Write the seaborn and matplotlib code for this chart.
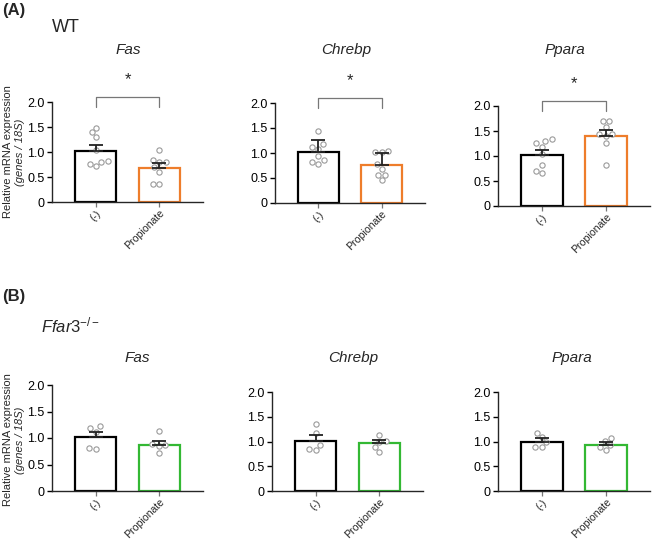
import numpy as np
import pandas as pd
import matplotlib
matplotlib.use("Agg")
import matplotlib.pyplot as plt
import seaborn as sns

# Data
genes = ["Fas", "Chrebp", "Ppara"]
groups = ["(-)", "Propionate"]

wt_means = [[1.03, 0.68], [1.02, 0.75], [1.02, 1.40]]
wt_sem = [[0.12, 0.10], [0.23, 0.25], [0.11, 0.12]]
wt_ctrl_pts = [
    [1.49, 1.40, 1.30, 1.05, 0.80, 0.72, 0.77, 0.83],
    [1.44, 1.17, 1.12, 1.07, 0.94, 0.85, 0.78, 0.81],
    [1.34, 1.26, 1.30, 1.19, 1.04, 0.82, 0.67, 0.70],
]
wt_prop_pts = [
    [1.05, 0.85, 0.81, 0.80, 0.70, 0.61, 0.37, 0.37],
    [1.02, 1.02, 1.03, 0.77, 0.68, 0.56, 0.56, 0.45],
    [1.70, 1.70, 1.59, 1.44, 1.41, 1.44, 1.27, 0.82],
]

ko_means = [[1.02, 0.87], [1.01, 0.97], [0.99, 0.93]]
ko_sem = [[0.09, 0.08], [0.12, 0.06], [0.08, 0.05]]
ko_ctrl_pts = [
    [1.18, 1.12, 1.22, 0.80, 0.82],
    [1.35, 1.17, 0.93, 0.83, 0.85],
    [1.18, 1.10, 0.99, 0.89, 0.89],
]
ko_prop_pts = [
    [1.14, 0.88, 0.86, 0.84, 0.72],
    [1.13, 1.01, 0.99, 0.89, 0.79],
    [1.07, 1.01, 0.92, 0.89, 0.82],
]
wt_signif = ["*", "*", "*"]

sns.set_style("ticks")
plt.rcParams["font.family"] = ["Liberation Sans", "DejaVu Sans"]
plt.rcParams["mathtext.fontset"] = "custom"
plt.rcParams["mathtext.it"] = "Liberation Sans:italic"
plt.rcParams["mathtext.rm"] = "Liberation Sans"

W, H = 653, 542
fig = plt.figure(figsize=(W / 100, H / 100), dpi=100)


def add_ax(left, top, width, height):
    return fig.add_axes([left / W, 1 - (top + height) / H, width / W, height / H])


def ftext(x, y, s, **kw):
    fig.text(x / W, 1 - y / H, s, **kw)


def draw_panel(ax, means, sem, ctrl, prop, color, star=None):
    bars = pd.DataFrame({"group": groups, "value": means})
    sns.barplot(data=bars, x="group", y="value", order=groups, color="white",
                width=0.65, errorbar=None, ax=ax, zorder=1)
    for patch, ec in zip(ax.patches, ["black", color]):
        patch.set_facecolor("white")
        patch.set_edgecolor(ec)
        patch.set_linewidth(1.6)

    pts = pd.DataFrame({
        "group": [groups[0]] * len(ctrl) + [groups[1]] * len(prop),
        "value": ctrl + prop,
    })
    sns.swarmplot(data=pts, x="group", y="value", order=groups, color="white",
                  edgecolor="#9a9a9a", linewidth=0.8, size=3.8, ax=ax, zorder=3)

    ax.errorbar([0, 1], means, yerr=[[0, 0], sem], fmt="none", ecolor="#222222",
                elinewidth=1.3, capsize=5, capthick=1.3, zorder=4)

    ax.set_xlim(-0.69, 1.69)
    ax.set_ylim(0, 2.0)
    ax.set_yticks([0, 0.5, 1.0, 1.5, 2.0])
    ax.set_yticklabels(["0", "0.5", "1.0", "1.5", "2.0"], fontsize=9)
    ax.set_xticks([0, 1])
    ax.set_xticklabels(groups, rotation=45, ha="right", rotation_mode="anchor",
                       fontsize=7.6)
    ax.set_xlabel("")
    ax.set_ylabel("")
    sns.despine(ax=ax)
    ax.spines["left"].set_linewidth(1.0)
    ax.spines["bottom"].set_linewidth(1.0)
    ax.tick_params(axis="y", length=3.5, width=1.0, pad=2, colors="black")
    ax.tick_params(axis="x", length=3.5, width=0.9, pad=1, color="#777777")

    if star:
        ax.plot([0, 0, 1, 1], [1.9, 2.1, 2.1, 1.9], color="#777777", lw=0.9,
                clip_on=False)
        ax.text(0.5, 2.44, star, ha="center", va="center", fontsize=12,
                clip_on=False)


# Panel (A) WT
a_rects = [(52, 102, 151, 100), (275, 103, 150, 100), (498, 106, 152, 100)]
for i, rect in enumerate(a_rects):
    ax = add_ax(*rect)
    draw_panel(ax, wt_means[i], wt_sem[i], wt_ctrl_pts[i], wt_prop_pts[i],
               "#EE7D2B", wt_signif[i])

# Panel (B) Ffar3-/-
b_rects = [(52, 385, 151, 106), (272, 392, 151, 99), (498, 392, 152, 99)]
for i, rect in enumerate(b_rects):
    ax = add_ax(*rect)
    draw_panel(ax, ko_means[i], ko_sem[i], ko_ctrl_pts[i], ko_prop_pts[i],
               "#33B833")

# Gene titles
for x, g in zip([128, 346, 565], genes):
    ftext(x, 50, g, ha="center", va="center", fontsize=11, style="italic")
for x, g in zip([137, 353, 572], genes):
    ftext(x, 358, g, ha="center", va="center", fontsize=11, style="italic")

# Panel labels
ftext(2, 11, "(A)", ha="left", va="center", fontsize=12, weight="bold")
ftext(52, 27, "WT", ha="left", va="center", fontsize=13)
ftext(2, 296, "(B)", ha="left", va="center", fontsize=12, weight="bold")
ftext(41, 325, r"$\mathit{Ffar3}^{\mathit{-/-}}$", ha="left", va="center",
      fontsize=12)

# Y axis labels
for yc in [152, 440]:
    ftext(8, yc, "Relative mRNA expression", rotation=90, ha="center",
          va="center", fontsize=8)
    ftext(20, yc, "(genes / 18S)", rotation=90, ha="center", va="center",
          fontsize=8, style="italic")

fig.savefig("out.png", dpi=100)
